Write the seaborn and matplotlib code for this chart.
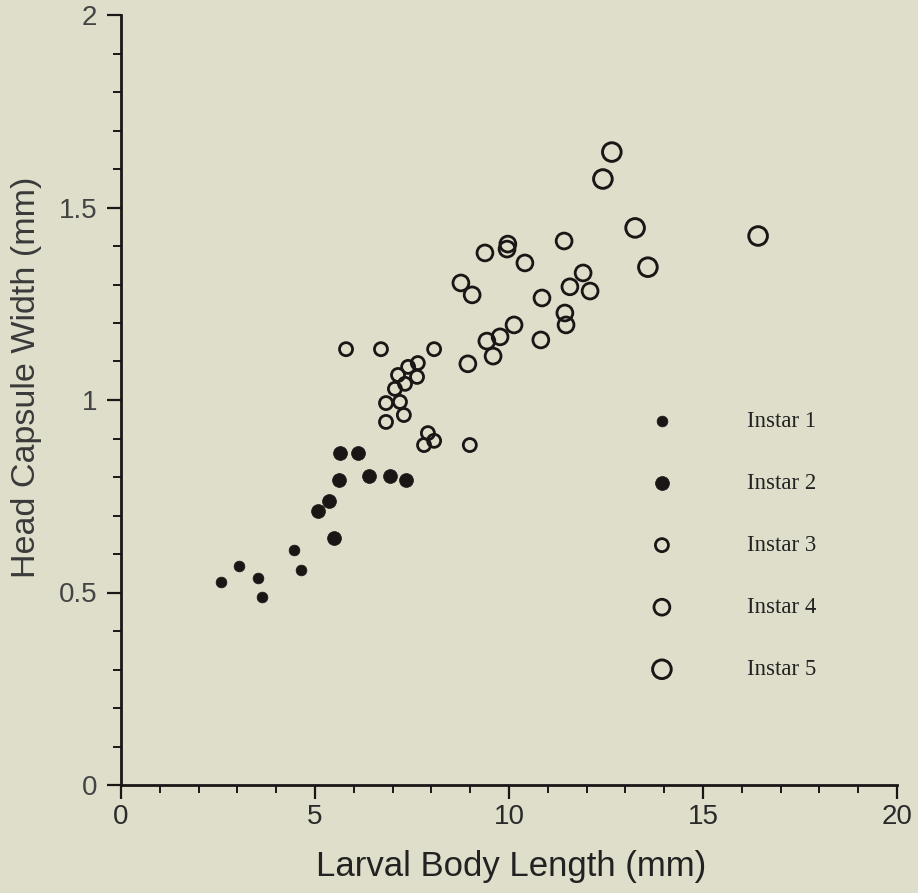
import matplotlib
matplotlib.use("Agg")
import matplotlib.pyplot as plt
from matplotlib.ticker import MultipleLocator
import seaborn as sns
import pandas as pd

# ---------------- data ----------------
instar1_x = [2.58, 3.04, 3.53, 3.63, 4.46, 4.64]
instar1_y = [0.527, 0.569, 0.538, 0.488, 0.610, 0.558]

instar2_x = [5.08, 5.36, 5.49, 5.64, 6.11, 5.62, 6.39, 6.93, 7.35]
instar2_y = [0.712, 0.738, 0.642, 0.862, 0.862, 0.792, 0.803, 0.803, 0.792]

instar3_x = [5.80, 6.70, 8.07, 7.40, 7.65, 7.14, 7.63, 7.32, 7.06, 6.83,
             7.19, 7.29, 6.83, 7.91, 7.81, 8.07, 8.99]
instar3_y = [1.132, 1.132, 1.132, 1.086, 1.096, 1.065, 1.060, 1.042, 1.029, 0.992,
             0.995, 0.961, 0.943, 0.914, 0.883, 0.894, 0.883]

instar4_x = [8.94, 9.43, 9.59, 9.77, 10.13, 10.82, 10.85, 11.44, 11.47, 8.76,
             9.05, 9.38, 9.95, 9.97, 10.41, 11.42, 11.57, 11.91, 12.09]
instar4_y = [1.094, 1.153, 1.114, 1.164, 1.195, 1.156, 1.265, 1.226, 1.195, 1.304,
             1.273, 1.382, 1.392, 1.405, 1.356, 1.413, 1.294, 1.330, 1.283]

instar5_x = [12.65, 12.42, 13.25, 13.58, 16.42]
instar5_y = [1.644, 1.574, 1.447, 1.345, 1.426]

series_labels = ["Instar 1", "Instar 2", "Instar 3", "Instar 4", "Instar 5"]

x_ticks = [0, 5, 10, 15, 20]
x_tick_labels = ["0", "5", "10", "15", "20"]
y_ticks = [0, 0.5, 1, 1.5, 2]
y_tick_labels = ["0", "0.5", "1", "1.5", "2"]

x_label = "Larval Body Length (mm)"
y_label = "Head Capsule Width (mm)"

# ---------------- styling ----------------
sns.set_theme(style="ticks")
plt.rcParams["font.family"] = ["Liberation Sans", "DejaVu Sans"]

bg = "#DFDECB"
ink = "#1a1616"

fig = plt.figure(figsize=(9.18, 8.93), dpi=100)
fig.patch.set_facecolor(bg)
ax = fig.add_axes([121 / 918, (893 - 785) / 893, 776 / 918, 770 / 893])
ax.set_facecolor(bg)

groups = [
    (instar1_x, instar1_y, 60, ink, 0.5),
    (instar2_x, instar2_y, 100, ink, 0.5),
    (instar3_x, instar3_y, 88, "none", 2.0),
    (instar4_x, instar4_y, 130, "none", 2.0),
    (instar5_x, instar5_y, 180, "none", 2.1),
]

for (gx, gy, size, fc, lw), lab in zip(groups, series_labels):
    df = pd.DataFrame({"length": gx, "width": gy})
    sns.scatterplot(data=df, x="length", y="width", ax=ax, s=size,
                    color=ink, facecolor=fc, edgecolor=ink, linewidth=lw,
                    label=lab, zorder=3, clip_on=False)

ax.set_xlim(0, 20)
ax.set_ylim(0, 2)
ax.set_xticks(x_ticks)
ax.set_xticklabels(x_tick_labels)
ax.set_yticks(y_ticks)
ax.set_yticklabels(y_tick_labels)
ax.xaxis.set_minor_locator(MultipleLocator(1))
ax.yaxis.set_minor_locator(MultipleLocator(0.1))

ax.tick_params(axis="both", which="major", direction="out", length=10, width=1.6,
               color=ink, labelsize=20)
ax.tick_params(axis="both", which="minor", direction="out", length=5.5, width=1.4,
               color=ink)
ax.tick_params(axis="x", which="major", pad=3.5, labelcolor="#2a2a2a")
ax.tick_params(axis="y", which="major", pad=7, labelcolor="#444444")

sns.despine(ax=ax)
for side in ("left", "bottom"):
    ax.spines[side].set_linewidth(2)
    ax.spines[side].set_color(ink)

ax.set_xlabel(x_label, fontsize=25, color="#222222")
ax.set_ylabel(y_label, fontsize=24.5, color="#3a3a3a")
ax.xaxis.set_label_coords(0.503, -0.084)
ax.yaxis.set_label_coords(-0.102, 0.53)

leg = ax.legend(loc="upper left", bbox_to_anchor=(639 / 918, 1 - 411 / 893),
                bbox_transform=fig.transFigure, frameon=False,
                prop={"family": "Liberation Serif", "size": 16.5},
                borderpad=0, borderaxespad=0, handlelength=2.0,
                handletextpad=2.7, labelspacing=1.79, scatterpoints=1)
for t in leg.get_texts():
    t.set_color("#222222")

fig.savefig("out.png", dpi=100, facecolor=bg)
